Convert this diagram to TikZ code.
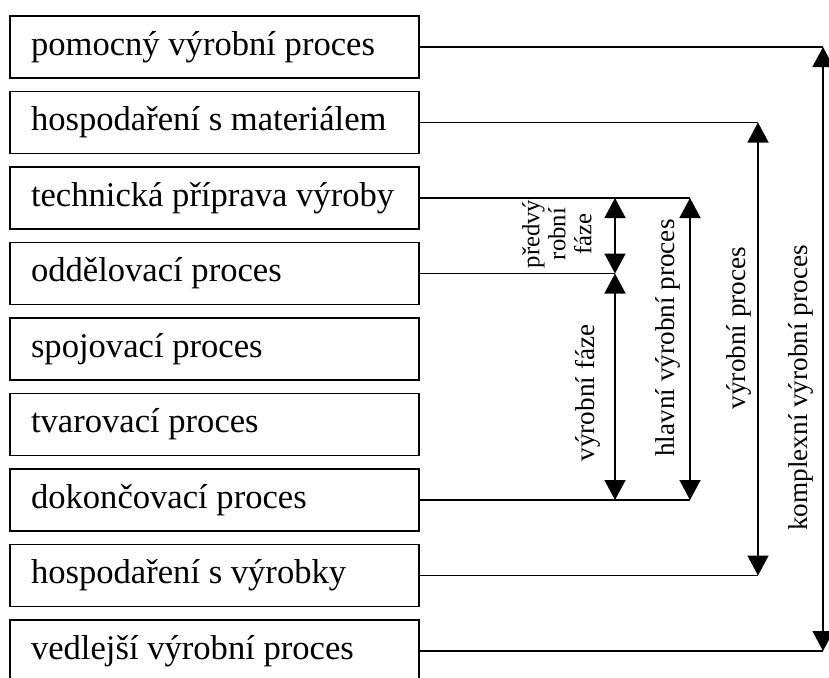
\documentclass[tikz,border=0pt]{standalone}
\usepackage{fontspec}
\setmainfont{Liberation Serif}
\usetikzlibrary{arrows.meta}
\newcommand{\boxtext}[1]{\makebox[367pt][l]{#1}}
\begin{document}
\begin{tikzpicture}[x=1pt,y=-1pt,
  box/.style={draw,line width=1.8pt,minimum width=409pt,minimum height=62pt,inner ysep=0pt,inner xsep=21pt,
    font=\fontsize{34.6}{40}\selectfont},
  conn/.style={line width=1.4pt},
  dim/.style={line width=1.5pt,{Triangle[length=20pt,width=21pt]}-{Triangle[length=20pt,width=21pt]}},
  lab/.style={rotate=90,font=\fontsize{27.2}{30}\selectfont,inner sep=0pt},
  small/.style={rotate=90,font=\fontsize{24.7}{26}\selectfont,inner sep=0pt,align=center}]
\useasboundingbox (0,0) rectangle (829,677);
\foreach \i/\t in {1/pomocný výrobní proces,2/hospodaření s materiálem,3/technická příprava výroby,
  4/oddělovací proces,5/spojovací proces,6/tvarovací proces,7/dokončovací proces,
  8/hospodaření s výrobky,9/vedlejší výrobní proces}{
  \node[box] (b\i) at (214.5,{47+75.5*(\i-1)}) {\boxtext{\t}};
}
\coordinate (k1) at (823,47);
\coordinate (k9) at (823,651);
\coordinate (v2) at (758,122.5);
\coordinate (v8) at (758,575.5);
\coordinate (h3) at (690,198);
\coordinate (h7) at (690,500);
\coordinate (f3) at (615,198);
\coordinate (f4) at (615,273.5);
\coordinate (f7) at (615,500);
\draw[conn] (b1.east) -- (k1);
\draw[conn] (b9.east) -- (k9);
\draw[conn] (b2.east) -- (v2);
\draw[conn] (b8.east) -- (v8);
\draw[conn] (b3.east) -- (h3);
\draw[conn] (b7.east) -- (h7);
\draw[conn] (b4.east) -- (f4);
\draw[dim] (k1) -- (k9);
\draw[dim] (v2) -- (v8);
\draw[dim] (h3) -- (h7);
\draw[dim] (f3) -- (f4);
\draw[dim] (f4) -- (f7);
\node[lab] (lk) at (801,388) {komplexní výrobní proces};
\node[lab] (lv) at (739,328) {výrobní proces};
\node[lab] (lh) at (668,338) {hlavní výrobní proces};
\node[lab] (lf) at (588,393) {výrobní fáze};
\node[small] (lp) at (557,234) {předvý\\robní\\fáze};
\end{tikzpicture}
\end{document}
